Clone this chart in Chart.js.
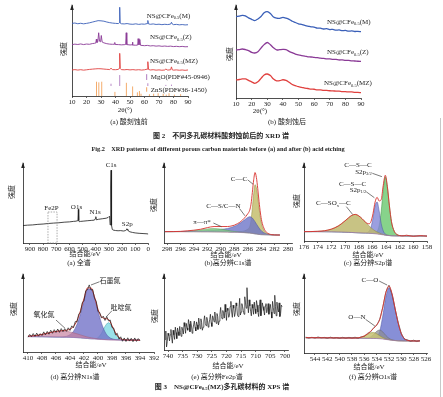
<!DOCTYPE html>
<html lang="zh">
<head>
<meta charset="utf-8">
<title>XRD / XPS</title>
<script src="https://cdn.jsdelivr.net/npm/chart.js@4.4.1/dist/chart.umd.min.js"></script>
<style>
  html, body { margin: 0; padding: 0; background: #fff; }
  #page { position: relative; width: 443px; height: 397px; overflow: hidden; background: #fff;
    font-family: 'Liberation Serif', 'Noto Sans CJK SC', serif; color: #222; }
  #page canvas { position: absolute; }
  .cap { position: absolute; white-space: nowrap; transform: translate(-50%, -50%); font-size: 7px; line-height: 1; }
  .cap.b { font-weight: bold; }
  .cap sub { font-size: 4.5px; vertical-align: -1px; }
  #edge { position: absolute; left: 440px; top: 118px; width: 1px; height: 279px; background: #c8c8c8; }
</style>
</head>
<body>
<div id="page"><div id="edge"></div></div>
<script>
const FONT = "'Liberation Serif', 'Noto Sans CJK SC', serif";
const INK = '#222';

// ---------- Fig.2 (a) XRD before etching ----------
const xrdTicks = [10, 20, 30, 40, 50, 60, 70, 80, 90];
const aMX = [10,12,14,16,18,20,22,24,26,28,30,32,34,36,38,40,42,42.6,42.9,43.2,44,46,48,50,52,54,56,58,60,61.9,62.3,62.7,64,66,68,70,72,74,76,78,78.6,79.2,80,82,84,86,88,90];
const aMY = [79.8,80.2,79.4,79.9,79.3,79.8,80.4,81.2,82.0,82.8,82.6,82.2,81.3,80.6,80.1,79.8,79.6,80.5,97.5,80.2,79.4,79.2,79.6,79.0,78.8,79.3,78.7,79.1,78.9,79.6,83.0,79.3,78.8,79.2,78.6,78.9,78.4,78.8,78.5,79.0,81.0,79.0,78.4,78.7,78.2,78.5,78.1,78.3];
const aZX = [10,12,14,16,18,20,22,24,25.5,26.4,26.8,27.2,27.8,28.4,29.0,29.7,30.2,30.8,32,34,36,38,39.2,39.5,39.8,42,44,46,47.0,47.4,47.8,50,51.4,51.7,52.0,54,55.3,55.6,56.2,56.8,57.3,60,62,64,66,68,70,72,74,76,78,80,82,84,86,88,90];
const aZY = [56.4,57.0,56.6,57.2,56.5,57.1,56.8,57.6,57.9,58.2,62.5,58.8,59.5,69.5,60.1,59.6,66.5,59.3,58.4,57.5,57.0,56.8,56.9,58.8,56.6,56.5,56.2,56.4,56.6,69.5,56.5,56.1,56.3,59.2,56.0,55.8,56.0,63.0,56.2,62.0,55.7,55.3,55.6,55.0,55.3,54.8,55.1,54.6,54.9,54.5,54.8,54.3,54.6,54.2,54.5,54.1,54.2];
const aRX = [10,12,14,16,18,20,22,24,26,28,30,32,34,36,36.9,38,40,42,42.5,42.9,43.3,44,46,48,50,52,54,56,58,60,61.8,62.3,62.8,64,66,68,70,72,74,74.7,76,78,78.6,79.2,80,82,84,86,88,90];
const aRY = [28.6,29.0,28.5,28.9,28.4,28.8,29.2,29.5,29.8,30.0,29.9,29.6,29.3,29.1,30.5,29.0,28.9,29.2,30.5,46.9,30.2,29.0,28.8,29.1,28.7,29.0,28.6,28.9,28.5,28.8,29.5,37.7,29.2,28.6,28.9,28.4,28.7,28.3,28.6,29.6,28.5,28.8,32.0,28.7,28.4,28.7,28.3,28.6,28.2,28.6];
const mgoBase = 11;
const mgoX = [36.9, 42.9, 62.3, 74.7, 78.6];
const mgoH = [2.5, 12, 3, 1.2, 1.5];
const znsX = [26.9, 28.5, 30.5, 39.6, 47.5, 51.8, 55.1, 56.5, 57.6, 63.4, 66.3, 69.4, 72.9, 75.0, 76.9, 80.6, 84.9];
const znsH = [15.7, 15.0, 15.7, 4.5, 14.5, 10.5, 4.0, 5.5, 2.5, 2.0, 2.5, 3.0, 2.5, 1.5, 3.0, 1.5, 2.0];

// ---------- Fig.2 (b) XRD after etching ----------
const bX = [10,12,14,16,18,20,22,24,26,28,30,32,34,36,38,40,42,44,46,48,50,52,54,56,58,60,62,64,66,68,70,72,74,76,78,80,82,84,86,88,90];
const bM = [87.4,88.1,88.8,88.4,86.2,84.6,83.2,85.0,87.7,91.6,92.9,90.8,87.0,85.8,85.7,86.6,85.9,84.6,82.5,81.2,79.8,79.1,78.0,77.4,76.5,76.3,75.1,75.2,74.2,74.5,73.6,73.8,72.9,73.2,72.4,72.7,71.9,72.1,71.5,71.6,71.3];
const bZ = [51.6,52.0,52.7,52.1,51.0,49.1,48.4,49.7,53.7,57.4,59.7,57.3,54.0,51.7,52.0,52.3,52.1,50.2,48.7,47.2,46.4,45.5,45.1,44.3,44.1,43.6,43.4,42.8,42.6,42.1,42.0,41.5,41.5,40.9,40.9,40.4,40.4,39.9,39.8,39.5,39.4];
const bMZ = [19.4,19.9,20.5,20.5,18.9,17.3,15.8,17.4,21.1,24.8,25.8,24.1,20.3,18.5,18.6,19.6,18.9,16.9,14.5,13.3,12.1,11.5,10.6,10.2,9.6,9.4,8.8,8.8,8.3,8.2,7.8,7.7,7.4,7.3,6.9,6.9,6.5,6.5,6.0,6.0,5.7];

// ---------- Fig.3 (a) survey ----------
const survTicks = [900, 800, 700, 600, 500, 400, 300, 200, 100, 0];
const survE = [953,920,880,840,800,760,720,680,640,600,570,550,540,535,532,529,525,515,490,460,430,410,403,399,395,380,350,320,305,298,294,290,287,285,283,281,278,274,268,250,230,210,190,175,168,163,160,156,150,140,120,100,70,40,10,0];
const survV = [21.8,22.3,22.6,23.3,23.7,24.4,24.9,25.3,26.0,26.4,27.0,27.3,27.8,28.5,42.1,28.0,26.6,27.0,27.4,27.9,28.3,28.6,30.5,32.9,29.0,29.6,30.3,31.0,32.0,33.2,32.6,22.5,30,70,91,55,22,17.0,16.2,15.6,15.3,15.5,15.0,15.4,16.5,17.8,16.2,17.0,14.8,14.0,13.2,12.6,12.1,11.8,11.5,11.2];

// ---------- Fig.3 (b) C1s ----------
const c1sTicks = [298, 296, 294, 292, 290, 288, 286, 284, 282, 280];
const cE = [298.3,297,296,295,294,293,292,291,290,289,288.5,288,287.5,287,286.5,286,285.7,285.5,285.3,285.1,284.9,284.7,284.5,284.3,284.1,283.9,283.6,283.2,282.8,282.4,282,281.5,281.2];
const cBase = [14.2,14.2,14.2,14.1,14.1,14.0,14.0,13.9,13.8,13.6,13.5,13.4,13.3,13.1,12.9,12.6,12.4,12.2,12.0,11.7,11.4,11.1,10.9,10.7,10.5,10.4,10.3,10.2,10.1,10.0,10.0,10.0,10.0];
const cPi = [0,0,0.1,0.4,1.2,2.4,3.6,4.1,3.6,2.3,1.6,1.0,0.6,0.3,0.15,0.05,0,0,0,0,0,0,0,0,0,0,0,0,0,0,0,0,0];
const cCS = [0,0.1,0.2,0.4,0.7,1.1,1.6,2.3,3.2,4.6,5.8,7.4,9.6,12.4,15.8,19.2,20.5,20.3,19.2,17.4,15.2,12.8,10.3,8.0,6.0,4.3,2.6,1.2,0.5,0.2,0.1,0,0];
const cCC = [0,0,0,0,0,0,0,0,0,0.1,0.2,0.4,0.7,1.2,2.2,4.5,8,16,32,50,61.5,58,47,33,21,12.5,6,2,0.7,0.2,0,0,0];
const cFit = [14.2,14.3,14.5,15.2,16.0,17.2,19.2,20.6,20.6,20.6,21.1,22.2,24.2,27.0,31.0,36.3,40.9,48.5,63.2,79.1,88.1,81.9,68.2,51.7,37.5,27.2,18.9,13.4,11.3,10.4,10.1,10.0,10.0];

// ---------- Fig.3 (c) S2p ----------
const s2pTicks = [176, 174, 172, 170, 168, 166, 164, 162, 160, 158];
const sE = [176,175,174,173,172,171,170.5,170,169.5,169,168.5,168,167.5,167,166.5,166.2,165.9,165.6,165.3,165,164.7,164.4,164.1,163.8,163.5,163.2,162.8,162.4,162,161.5,161,160,159,158];
const sBase = [12.0,12.0,12.0,11.9,11.8,11.6,11.5,11.3,11.1,10.9,10.7,10.5,10.3,10.1,9.9,9.7,9.5,9.2,8.9,8.6,8.2,7.8,7.4,7.1,6.9,6.7,6.6,6.5,6.5,6.5,6.4,6.4,6.4,6.4];
const sSOx = [0,0.1,0.4,1.3,3.4,7.6,10.8,14.5,18.5,22.0,23.4,21.8,18.2,13.8,9.6,7.3,5.4,3.8,2.6,1.7,1.0,0.6,0.35,0.2,0.1,0.05,0,0,0,0,0,0,0,0];
const sP12 = [0,0,0,0,0,0,0,0,0,0,0,0,0.05,0.3,2.5,8,20,36,41,30,14,5,1.5,0.4,0.1,0,0,0,0,0,0,0,0,0];
const sP32 = [0,0,0,0,0,0,0,0,0,0,0,0,0,0,0,0,0.2,0.8,3.5,11,30,58,75,62,38,18,6,1.8,0.5,0.1,0,0,0,0];
const sFit = [12.0,12.1,12.4,13.2,15.2,19.2,22.3,25.8,29.6,32.9,34.1,32.3,28.6,24.2,22.0,25.0,35.1,49.8,56.0,51.3,53.2,71.4,84.3,69.7,45.1,24.8,12.6,8.3,7.0,6.6,7.4,6.0,6.9,6.2];

// ---------- Fig.3 (d) N1s ----------
const n1sTicks = [410, 408, 406, 404, 402, 400, 398, 396, 394, 392];
const nE = [410,409.5,409,408.5,408,407.5,407,406.5,406,405.5,405,404.5,404,403.5,403,402.5,402,401.5,401,400.5,400,399.5,399,398.5,398,397.5,397,396.5,396,395.5,395,394.5,394];
const nBase = [19.8,19.7,19.7,19.6,19.6,19.5,19.4,19.3,19.2,19.1,19.0,18.9,18.8,18.6,18.4,18.1,17.7,17.3,16.9,16.6,16.3,16.0,15.8,15.6,15.5,15.4,15.4,15.3,15.3,15.3,15.3,15.2,15.2];
const nOx = [0.5,0.9,1.4,2.1,3.0,4.1,5.2,6.3,7.2,7.8,8.0,7.7,7.0,6.0,4.9,3.8,2.8,1.9,1.3,0.8,0.5,0.3,0.15,0.08,0.03,0,0,0,0,0,0,0,0];
const nGr = [0,0,0,0,0,0,0,0,0,0.15,0.5,1.3,3.5,8,17,31,48,63,64,53,36,21,10,4,1.5,0.5,0.1,0,0,0,0,0,0];
const nPy = [0,0,0,0,0,0,0,0,0,0,0,0,0,0,0,0,0,0,0,0.4,2,8,17,22,17,8.5,3,0.8,0.2,0,0,0,0];
const nFit = [20.3,20.6,21.1,21.7,22.6,23.6,24.6,25.6,26.4,27.05,27.5,27.9,29.3,32.6,40.3,52.9,68.5,82.2,82.2,70.8,54.8,45.3,42.95,41.7,34.0,24.4,18.5,16.1,15.5,15.3,15.3,15.2,15.2];
const nRawE = [410,409.75,409.5,409.25,409,408.75,408.5,408.25,408,407.75,407.5,407.25,407,406.75,406.5,406.25,406,405.75,405.5,405.25,405,404.75,404.5,404.25,404,403.75,403.5,403.25,403,402.75,402.5,402.25,402,401.75,401.5,401.25,401,400.75,400.5,400.25,400,399.75,399.5,399.25,399,398.75,398.5,398.25,398,397.75,397.5,397.25,397,396.75,396.5,396.25,396,395.75,395.5,395.25,395,394.75,394.5,394.25,394];
const nRaw = [19.0,22.5,19.8,23.6,20.0,24.2,20.3,23.5,21.0,25.8,21.9,26.4,22.8,27.9,24.0,28.6,25.0,29.4,25.2,30.0,26.1,29.8,26.5,31.0,27.6,33.5,31.0,39.0,38.5,48.5,51.0,63.0,66.0,78.5,80.0,86.0,79.5,80.0,69.0,65.0,52.0,50.5,43.5,46.0,40.5,45.5,40.0,41.0,31.5,30.5,22.0,24.0,16.5,19.5,13.8,18.0,13.5,18.2,14.0,17.6,13.2,18.0,13.6,17.2,14.5];

// ---------- Fig.3 (e) Fe2p ----------
const fe2pTicks = [740, 735, 730, 725, 720, 715, 710, 705, 700];
const fE = [
  741,740.75,740.5,740.25,740,739.75,739.5,739.25,
  739,738.75,738.5,738.25,738,737.75,737.5,737.25,
  737,736.75,736.5,736.25,736,735.75,735.5,735.25,
  735,734.75,734.5,734.25,734,733.75,733.5,733.25,
  733,732.75,732.5,732.25,732,731.75,731.5,731.25,
  731,730.75,730.5,730.25,730,729.75,729.5,729.25,
  729,728.75,728.5,728.25,728,727.75,727.5,727.25,
  727,726.75,726.5,726.25,726,725.75,725.5,725.25,
  725,724.75,724.5,724.25,724,723.75,723.5,723.25,
  723,722.75,722.5,722.25,722,721.75,721.5,721.25,
  721,720.75,720.5,720.25,720,719.75,719.5,719.25,
  719,718.75,718.5,718.25,718,717.75,717.5,717.25,
  717,716.75,716.5,716.25,716,715.75,715.5,715.25,
  715,714.75,714.5,714.25,714,713.75,713.5,713.25,
  713,712.75,712.5,712.25,712,711.75,711.5,711.25,
  711,710.75,710.5,710.25,710,709.75,709.5,709.25,
  709,708.75,708.5,708.25,708,707.75,707.5,707.25,
  707,706.75,706.5,706.25,706,705.75,705.5,705.25,
  705,704.75,704.5,704.25,704,703.75,703.5,703.25,
  703,702.75,702.5,702.25,702,701.75,701.5,701.25,
  701];
const fV = [
  14,25,4,11,22,19,12,20,
  27,16,9,26,20,14,30,23,
  15,29,24,19,31,23,18,30,
  26,21,36,31,22,35,29,26,
  40,34,24,38,33,22,27,33,
  38,30,25,37,33,27,42,35,
  28,41,36,26,30,38,45,35,
  32,43,39,30,34,40,47,36,
  31,45,42,37,50,41,35,48,
  44,33,38,47,56,44,41,52,
  48,42,60,50,39,55,52,43,
  45,57,64,50,43,59,55,44,
  49,62,58,46,44,55,68,46,
  50,61,57,52,47,70,62,55,
  82,60,49,66,58,51,45,60,
  55,47,63,54,48,65,59,50,
  44,57,66,45,51,62,57,52,
  46,58,61,49,53,61,47,55,
  60,50,42,64,56,48,72,57,
  45,63,54,50,62,44,48,59,
  57];

// ---------- Fig.3 (f) O1s ----------
const o1sTicks = [544, 542, 540, 538, 536, 534, 532, 530, 528, 526];
const oE = [545.5,545,544.5,544,543.5,543,542.5,542,541.5,541,540.5,540,539.5,539,538.5,538,537.5,537,536.5,536,535.5,535,534.5,534,533.5,533,532.5,532,531.5,531,530.5,530,529.5,529,528.5,528,527.5,527];
const oBase = [19.4,19.4,19.4,19.3,19.3,19.3,19.2,19.2,19.2,19.1,19.1,19.1,19.0,19.0,19.0,18.9,18.9,18.8,18.8,18.7,18.6,18.5,18.4,18.3,18.0,17.6,17.1,16.6,16.1,15.7,15.4,15.3,15.2,15.2,15.2,15.2,15.2,15.2];
const oKh = [0,0,0,0,0,0,0,0,0,0,0,0,0,0,0,0,0.1,0.4,1.2,2.8,5.0,7.0,7.4,6.0,3.8,1.9,0.7,0.2,0.05,0,0,0,0,0,0,0,0,0];
const oON = [0,0,0,0,0,0,0,0,0,0,0,0,0,0,0,0,0,0,0,0.05,0.4,1.8,5.0,9.2,11.0,9.0,5.0,2.0,0.6,0.15,0,0,0,0,0,0,0,0];
const oCO = [0,0,0,0,0,0,0,0,0,0,0,0,0,0,0,0,0,0,0,0,0,0,0.4,2.0,9.5,30,54,66,58,40,22,9,3,0.8,0.2,0,0,0];
const oFit = [19.4,19.4,19.4,19.3,19.3,19.3,19.2,19.2,19.2,19.1,19.1,19.1,19.0,19.0,19.0,18.9,19.0,19.2,20.0,21.6,24.0,27.3,31.2,35.5,42.3,58.5,76.8,84.8,74.8,55.9,37.4,24.3,18.2,16.0,15.4,15.2,15.2,15.2];
const oRaw = [20.2,18.6,19.9,18.8,20.4,19.0,19.8,18.5,20.1,18.9,19.6,18.4,19.9,18.7,19.8,19.1,20.0,18.6,20.6,21.0,24.8,26.6,31.9,35.0,43.0,57.8,77.5,86.0,73.5,55.0,38.5,24.8,17.5,16.8,14.6,16.3,14.5,16.0];

// ---------- helpers ----------
const PL = 16, PR = 34, PT = 4, XH = 12, PB = 2;

function pts(xs, ys) { return xs.map((x, i) => ({ x: x, y: ys[i] })); }
function above(xs, base, h) { return xs.map((x, i) => ({ x: x, y: base[i] + h[i] })); }
function sticks(xs, hs, base) {
  const out = [];
  xs.forEach((x, i) => { out.push({ x: x, y: base }, { x: x, y: base + hs[i] }, { x: x, y: null }); });
  return out;
}
function line(data, color, width, extra) {
  return Object.assign({ data: data, borderColor: color, borderWidth: width, pointRadius: 0, fill: false, tension: 0 }, extra || {});
}
function comp(data, fillColor, edge, baseIdx) {
  return { data: data, borderColor: edge, borderWidth: 0.5, backgroundColor: fillColor,
    fill: { target: baseIdx }, pointRadius: 0, cubicInterpolationMode: 'monotone' };
}
const smooth = { cubicInterpolationMode: 'monotone' };

// text with _{subscript} parts
function richText(ctx, str, px, py, size, align) {
  const parts = str.split(/(_\{[^}]*\})/).filter(Boolean)
    .map(p => p.startsWith('_{') ? { t: p.slice(2, -1), sub: true } : { t: p });
  const fMain = size + 'px ' + FONT, fSub = (size * 0.64).toFixed(1) + 'px ' + FONT;
  let w = 0;
  parts.forEach(p => { ctx.font = p.sub ? fSub : fMain; p.w = ctx.measureText(p.t).width; w += p.w; });
  let cx = align === 'left' ? px : px - w / 2;
  ctx.textAlign = 'left';
  ctx.textBaseline = 'middle';
  parts.forEach(p => {
    ctx.font = p.sub ? fSub : fMain;
    ctx.fillText(p.t, cx, p.sub ? py + size * 0.32 : py);
    cx += p.w;
  });
}

function makeDecor(cfg) {
  return {
    id: 'decor',
    afterDraw(chart) {
      const { ctx, chartArea: ca, scales } = chart;
      const X = v => scales.x.getPixelForValue(v);
      const Y = v => scales.y.getPixelForValue(v);
      const ox = cfg.area.l - PL, oy = cfg.area.t - PT;
      ctx.save();
      // arrow head on the intensity axis
      ctx.fillStyle = INK;
      ctx.beginPath();
      ctx.moveTo(ca.left, ca.top - 1);
      ctx.lineTo(ca.left - 1.8, ca.top + 5);
      ctx.lineTo(ca.left + 1.8, ca.top + 5);
      ctx.closePath();
      ctx.fill();
      // y title
      ctx.save();
      ctx.translate(cfg.yTitle[0] - ox, cfg.yTitle[1] - oy);
      ctx.rotate(-Math.PI / 2);
      ctx.font = '7px ' + FONT;
      ctx.textAlign = 'center';
      ctx.textBaseline = 'middle';
      ctx.fillText('强度', 0, 0);
      ctx.restore();
      // dashed box (survey Fe2P window)
      if (cfg.box) {
        const b = cfg.box;
        ctx.strokeStyle = '#888';
        ctx.lineWidth = 0.7;
        ctx.setLineDash([1.5, 1.2]);
        ctx.strokeRect(X(b[0]), Y(b[3]), X(b[1]) - X(b[0]), Y(b[2]) - Y(b[3]));
        ctx.setLineDash([]);
      }
      // legend ticks
      (cfg.marks || []).forEach(m => {
        ctx.strokeStyle = m.c;
        ctx.lineWidth = 1;
        ctx.beginPath();
        ctx.moveTo(X(m.x), Y(m.y1));
        ctx.lineTo(X(m.x), Y(m.y2));
        ctx.stroke();
      });
      // labels and leader lines
      (cfg.notes || []).forEach(n => {
        if (n.lead) {
          ctx.strokeStyle = INK;
          ctx.lineWidth = 0.6;
          ctx.beginPath();
          ctx.moveTo(X(n.lead[0]), Y(n.lead[1]));
          ctx.lineTo(X(n.lead[2]), Y(n.lead[3]));
          ctx.stroke();
        }
        ctx.fillStyle = INK;
        richText(ctx, n.t, X(n.x), Y(n.y), n.size || 7, n.align || 'center');
      });
      ctx.restore();
    }
  };
}

function panel(cfg) {
  const a = cfg.area;
  const cv = document.createElement('canvas');
  const w = Math.round((a.r - a.l) + PL + PR), h = Math.round((a.b - a.t) + PT + XH + PB);
  cv.width = w; cv.height = h;
  cv.style.left = (a.l - PL) + 'px';
  cv.style.top = (a.t - PT) + 'px';
  cv.style.width = w + 'px';
  cv.style.height = h + 'px';
  document.getElementById('page').appendChild(cv);
  return new Chart(cv.getContext('2d'), {
    type: 'line',
    data: { datasets: cfg.datasets },
    options: {
      responsive: false,
      animation: false,
      devicePixelRatio: 1,
      layout: { padding: { left: PL, right: w - PL - (a.r - a.l), top: PT, bottom: PB } },
      plugins: { legend: { display: false }, tooltip: { enabled: false } },
      scales: {
        x: {
          type: 'linear', reverse: !!cfg.reverse, min: cfg.min, max: cfg.max,
          afterBuildTicks: s => { s.ticks = cfg.ticks.map(v => ({ value: v })); },
          afterFit: s => { s.height = XH; s.paddingLeft = 0; s.paddingRight = 0; },
          ticks: { autoSkip: false, maxRotation: 0, minRotation: 0, padding: 0, color: INK,
            font: { family: FONT, size: 7 }, callback: v => String(v) },
          grid: { drawOnChartArea: false, drawTicks: true, tickLength: 2, color: INK, lineWidth: 0.7 },
          border: { color: INK, width: 0.8 }
        },
        y: {
          min: 0, max: 100,
          ticks: { display: false },
          grid: { display: false },
          border: { color: INK, width: 0.8 },
          afterFit: s => { s.width = 0; }
        }
      }
    },
    plugins: [makeDecor(cfg)]
  });
}

// ---------- Fig.2 ----------
panel({
  area: { l: 72, r: 188, t: 5, b: 96 }, min: 10, max: 90, ticks: xrdTicks, yTitle: [64, 49],
  datasets: [
    line(pts(aMX, aMY), '#3a5fb8', 0.9),
    line(pts(aZX, aZY), '#8a3a96', 0.9),
    line(pts(aRX, aRY), '#e0413f', 0.9),
    line(sticks(mgoX, mgoH, mgoBase), '#b07cc0', 0.9),
    line(sticks(znsX, znsH, 0), '#f2a35c', 0.9)
  ],
  marks: [{ x: 61.5, y1: 17.6, y2: 24, c: '#b07cc0' }, { x: 61.5, y1: 4.7, y2: 9.6, c: '#f2a35c' }],
  notes: [
    { x: 61.5, y: 87.9, t: 'NS@CFe_{0.5}(M)', align: 'left' },
    { x: 63.8, y: 64.5, t: 'NS@CFe_{0.5}(Z)', align: 'left' },
    { x: 63.8, y: 38.5, t: 'NS@CFe_{0.5}(MZ)', align: 'left' },
    { x: 64.3, y: 21.2, t: 'MgO(PDF#45-0946)', align: 'left' },
    { x: 64.3, y: 6.6, t: 'ZnS(PDF#36-1450)', align: 'left' }
  ]
});

panel({
  area: { l: 236, r: 361, t: 5, b: 98 }, min: 10, max: 90, ticks: xrdTicks, yTitle: [230.5, 54],
  datasets: [
    line(pts(bX, bM), '#3a5fb8', 1.3, { tension: 0.3 }),
    line(pts(bX, bZ), '#8a3a96', 1.3, { tension: 0.3 }),
    line(pts(bX, bMZ), '#e0413f', 1.3, { tension: 0.3 })
  ],
  notes: [
    { x: 68.2, y: 82, t: 'NS@CFe_{0.5}(M)', align: 'left' },
    { x: 68.2, y: 49.1, t: 'NS@CFe_{0.5}(Z)', align: 'left' },
    { x: 66.3, y: 15.8, t: 'NS@CFe_{0.5}(MZ)', align: 'left' }
  ]
});

// ---------- Fig.3 ----------
panel({
  area: { l: 23, r: 148.3, t: 163, b: 243 }, min: 0, max: 953, reverse: true, ticks: survTicks, yTitle: [12.5, 192],
  datasets: [line(pts(survE, survV), '#1a1a1a', 0.8)],
  box: [763, 694, 0, 38.75],
  notes: [
    { x: 736, y: 43.75, t: 'Fe2P' },
    { x: 546, y: 45, t: 'O1s' },
    { x: 405, y: 38.75, t: 'N1s' },
    { x: 283, y: 97, t: 'C1s' },
    { x: 160, y: 23.75, t: 'S2p' }
  ]
});

panel({
  area: { l: 164, r: 292, t: 163, b: 243 }, min: 279.4, max: 298.45, reverse: true, ticks: c1sTicks, yTitle: [154, 205],
  datasets: [
    line(pts(cE, cFit), '#d8322e', 0.9, smooth),
    line(pts(cE, cBase), '#a070b0', 0.6),
    comp(above(cE, cBase, cPi), 'rgba(130,205,130,0.8)', '#5a9a5a', 1),
    comp(above(cE, cBase, cCS), 'rgba(110,118,200,0.8)', '#4a52a0', 1),
    comp(above(cE, cBase, cCC), 'rgba(196,190,110,0.85)', '#8f8a3a', 1)
  ],
  notes: [
    { x: 287.3, y: 80, t: 'C—C', lead: [286.0, 79, 285.2, 73.5] },
    { x: 289.6, y: 46, t: 'C—S/C—N', lead: [287.2, 43, 286.4, 34] },
    { x: 292.8, y: 26, t: 'π—π*', lead: [291.1, 25, 289.9, 20.4] }
  ]
});

panel({
  area: { l: 304, r: 427, t: 163, b: 241 }, min: 158, max: 176, reverse: true, ticks: s2pTicks, yTitle: [297, 201],
  datasets: [
    line(pts(sE, sFit), '#d8322e', 0.9, smooth),
    line(pts(sE, sBase), '#a070b0', 0.6),
    comp(above(sE, sBase, sSOx), 'rgba(190,185,110,0.85)', '#8a8540', 1),
    comp(above(sE, sBase, sP12), 'rgba(130,135,215,0.8)', '#4a52a0', 1),
    comp(above(sE, sBase, sP32), 'rgba(105,200,110,0.8)', '#3f8f45', 1)
  ],
  notes: [
    { x: 168.1, y: 97.4, t: 'C—S—C' },
    { x: 167.3, y: 88.9, t: 'S2p_{3/2}', lead: [166.0, 86.8, 164.6, 82.5] },
    { x: 168.9, y: 72.6, t: 'C—S—C' },
    { x: 168.1, y: 65.4, t: 'S2p_{1/2}', lead: [166.9, 63.2, 165.7, 55.5] },
    { x: 171.7, y: 48.3, t: 'C—SO_{x}—C', lead: [169.8, 44, 168.9, 34.2] }
  ]
});

panel({
  area: { l: 23, r: 154, t: 274, b: 352 }, min: 392, max: 410.71, reverse: true, ticks: n1sTicks, yTitle: [14, 309],
  datasets: [
    line(pts(nRawE, nRaw), '#1a1a1a', 0.7),
    line(pts(nE, nFit), '#d8322e', 0.9, smooth),
    line(pts(nE, nBase), '#a070b0', 0.6),
    comp(above(nE, nBase, nOx), 'rgba(200,130,160,0.7)', '#a0607a', 2),
    comp(above(nE, nBase, nGr), 'rgba(115,115,200,0.8)', '#4a4a9a', 2),
    comp(above(nE, nBase, nPy), 'rgba(120,215,225,0.75)', '#3a9aa8', 2)
  ],
  notes: [
    { x: 398.3, y: 91, t: '石墨氮', lead: [399.8, 90, 401.0, 85.9] },
    { x: 396.7, y: 56, t: '吡啶氮', lead: [398.0, 53, 398.8, 45.3] },
    { x: 407.7, y: 47.4, t: '氧化氮', lead: [406.0, 41, 404.7, 30.4] }
  ]
});

panel({
  area: { l: 164, r: 288, t: 274, b: 350 }, min: 698.97, max: 741.37, reverse: true, ticks: fe2pTicks, yTitle: [155, 316],
  datasets: [line(pts(fE, fV), '#1a1a1a', 0.7)]
});

panel({
  area: { l: 304, r: 427, t: 274, b: 353 }, min: 525.84, max: 545.78, reverse: true, ticks: o1sTicks, yTitle: [297, 309],
  datasets: [
    line(pts(oE, oFit), '#d8322e', 0.9, smooth),
    line(pts(oE, oRaw), '#444', 0.6),
    line(pts(oE, oBase), '#a070b0', 0.6),
    comp(above(oE, oBase, oKh), 'rgba(200,195,115,0.85)', '#8f8a3a', 2),
    comp(above(oE, oBase, oON), 'rgba(140,140,150,0.75)', '#66666e', 2),
    comp(above(oE, oBase, oCO), 'rgba(105,115,205,0.8)', '#4a52a0', 2)
  ],
  notes: [
    { x: 535.1, y: 92.4, t: 'C—O', lead: [533.6, 91.1, 532.3, 86] },
    { x: 537.2, y: 46, t: 'O—N', lead: [535.8, 42.6, 534.3, 34.2] }
  ]
});

// ---------- captions ----------
const caps = [
  [125, 110, '2θ(°)'], [260, 111, '2θ(°)'],
  [129, 121.7, '(a) 酸刻蚀前'], [287, 121.7, '(b) 酸刻蚀后'],
  [221, 136, '图 2　不同多孔碳材料酸刻蚀前后的 XRD 谱', 'b'],
  [218, 149.3, 'Fig.2　XRD patterns of different porous carbon materials before (a) and after (b) acid etching', 'b', 6.3],
  [85, 254, '结合能/eV'], [226, 255, '结合能/eV'], [368, 255, '结合能/eV'],
  [91, 365, '结合能/eV'], [228, 366, '结合能/eV'], [369, 367, '结合能/eV'],
  [79, 263, '(a) 全谱'], [228, 263, '(b)高分辨C1s谱'], [368, 263, '(c) 高分辨S2p谱'],
  [75, 377, '(d) 高分辨N1s谱'], [217, 377, '(e) 高分辨Fe2p谱'], [373, 377, '(f) 高分辨O1s谱'],
  [222, 388.3, '图 3　NS@CFe<sub>0.5</sub>(MZ)多孔碳材料的 XPS 谱', 'b']
];
caps.forEach(c => {
  const d = document.createElement('div');
  d.className = 'cap' + (c[3] ? ' b' : '');
  d.style.left = c[0] + 'px';
  d.style.top = c[1] + 'px';
  if (c[4]) d.style.fontSize = c[4] + 'px';
  d.innerHTML = c[2];
  document.getElementById('page').appendChild(d);
});
</script>
</body>
</html>
